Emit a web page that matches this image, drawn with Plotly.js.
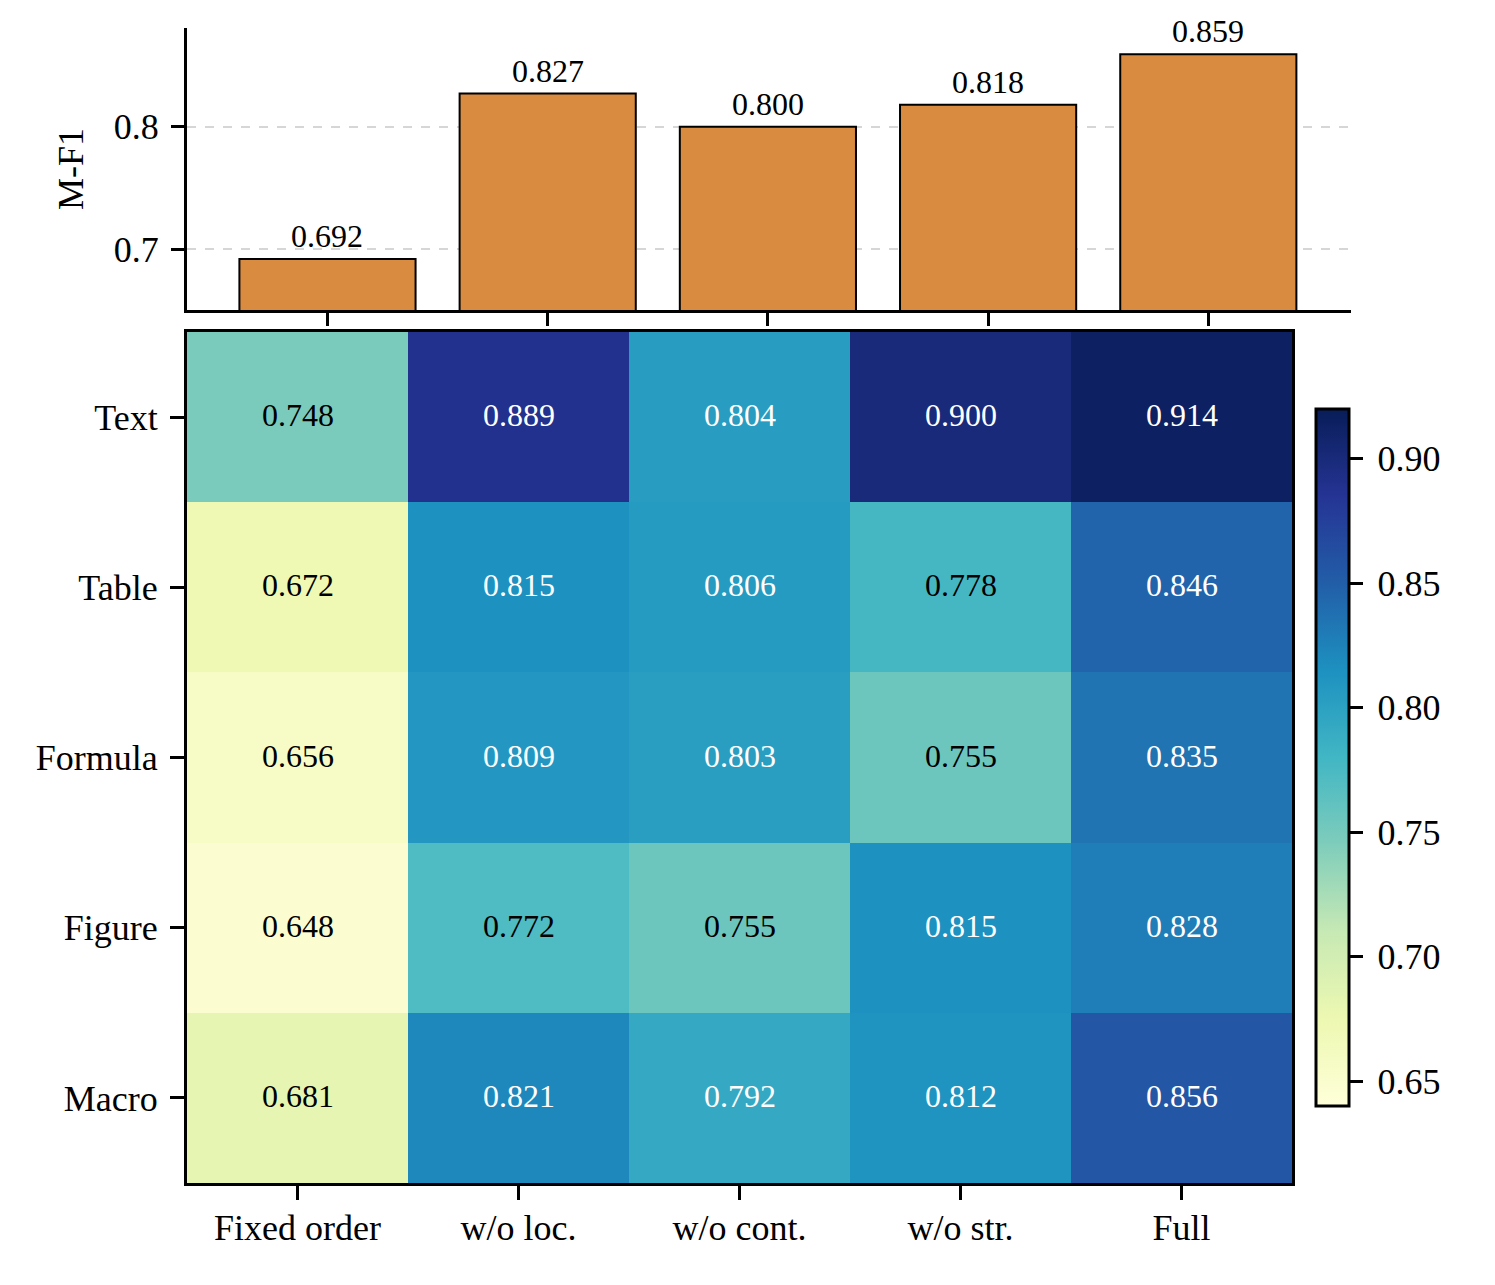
<!DOCTYPE html>
<html>
<head>
<meta charset="utf-8">
<script src="https://cdn.plot.ly/plotly-3.0.1.min.js"></script>
<style>
  html, body { margin: 0; padding: 0; background: #ffffff; }
  #chart { width: 1495px; height: 1285px; }
</style>
</head>
<body>
<div id="chart"></div>
<script>
// Ablation variants (columns) and element types (rows)
const variants = ["Fixed order", "w/o loc.", "w/o cont.", "w/o str.", "Full"];
const elements = ["Text", "Table", "Formula", "Figure", "Macro"];

// Overall M-F1 per variant (top bar panel)
const overallF1 = [0.692, 0.827, 0.800, 0.818, 0.859];

// Per-element F1, one row per element type
const textF1    = [0.748, 0.889, 0.804, 0.900, 0.914];
const tableF1   = [0.672, 0.815, 0.806, 0.778, 0.846];
const formulaF1 = [0.656, 0.809, 0.803, 0.755, 0.835];
const figureF1  = [0.648, 0.772, 0.755, 0.815, 0.828];
const macroF1   = [0.681, 0.821, 0.792, 0.812, 0.856];

const colorbarTicks = [0.65, 0.70, 0.75, 0.80, 0.85, 0.90];
const barTicks = [0.7, 0.8];

const zRows = [textF1, tableF1, formulaF1, figureF1, macroF1];
const zMin = 0.64, zMax = 0.92;

const FONT = '"Liberation Serif", "Times New Roman", Times, serif';
const W = 1495, H = 1285;

// YlGnBu
const ylgnbu = [
  [0.000, '#ffffd9'], [0.125, '#edf8b1'], [0.250, '#c7e9b4'],
  [0.375, '#7fcdbb'], [0.500, '#41b6c4'], [0.625, '#1d91c0'],
  [0.750, '#225ea8'], [0.875, '#253494'], [1.000, '#081d58']
];

const px = v => v / W;
const py = v => 1 - v / H;

const barTrace = {
  type: 'bar',
  x: variants,
  y: overallF1,
  xaxis: 'x',
  yaxis: 'y',
  width: 0.8,
  marker: { color: '#d98b40', line: { color: '#000000', width: 2 } },
  hoverinfo: 'x+y',
  showlegend: false
};

const heatTrace = {
  type: 'heatmap',
  x: variants,
  y: elements,
  z: zRows,
  xaxis: 'x2',
  yaxis: 'y2',
  zmin: zMin,
  zmax: zMax,
  colorscale: ylgnbu,
  showscale: true,
  colorbar: {
    x: px(1316), xanchor: 'left',
    y: py(757.5), yanchor: 'middle',
    len: 697, lenmode: 'pixels',
    thickness: 33, thicknessmode: 'pixels',
    outlinecolor: '#000000', outlinewidth: 3,
    xpad: 0, ypad: 0,
    tickmode: 'array',
    tickvals: colorbarTicks,
    ticktext: colorbarTicks.map(v => '\u2009' + v.toFixed(2)),
    ticks: 'outside', ticklen: 13, tickwidth: 3, tickcolor: '#000000',
    tickfont: { family: FONT, size: 36, color: '#000000' }
  },
  hovertemplate: '%{y} / %{x}: %{z:.3f}<extra></extra>'
};

const annotations = [];

// value labels above the bars
variants.forEach((v, i) => {
  annotations.push({
    xref: 'x', yref: 'y', x: v, y: overallF1[i],
    text: overallF1[i].toFixed(3),
    showarrow: false, yanchor: 'bottom', yshift: 3,
    font: { family: FONT, size: 32, color: '#000000' }
  });
});

// value labels inside heatmap cells
const mid = (zMin + zMax) / 2;
elements.forEach((e, r) => {
  variants.forEach((v, c) => {
    const val = zRows[r][c];
    annotations.push({
      xref: 'x2', yref: 'y2', x: v, y: e,
      text: val.toFixed(3),
      showarrow: false, yshift: 2,
      font: { family: FONT, size: 32, color: val > mid ? '#ffffff' : '#000000' }
    });
  });
});

const layout = {
  width: W, height: H,
  margin: { l: 0, r: 0, t: 0, b: 0 },
  paper_bgcolor: '#ffffff',
  plot_bgcolor: '#ffffff',
  font: { family: FONT, size: 36, color: '#000000' },
  showlegend: false,
  xaxis: {
    domain: [px(187), px(1351)],
    anchor: 'y',
    type: 'category',
    range: [-0.638, 4.648],
    showline: true, linecolor: '#000000', linewidth: 3,
    ticks: 'outside', ticklen: 13, tickwidth: 3, tickcolor: '#000000',
    showticklabels: false,
    showgrid: false, zeroline: false, fixedrange: true
  },
  yaxis: {
    domain: [py(310), py(28)],
    anchor: 'x',
    range: [0.6505, 0.8805],
    showline: true, linecolor: '#000000', linewidth: 3,
    ticks: 'outside', ticklen: 13, tickwidth: 3, tickcolor: '#000000',
    ticklabelstandoff: 5,
    tickmode: 'array', tickvals: barTicks,
    ticktext: barTicks.map(v => v.toFixed(1)),
    tickfont: { family: FONT, size: 36 },
    showgrid: true, gridcolor: '#d6d6d6', gridwidth: 1.5, griddash: 'dash',
    zeroline: false, fixedrange: true,
    title: { text: 'M-F1', font: { family: FONT, size: 36 }, standoff: 20 }
  },
  xaxis2: {
    domain: [px(187), px(1292)],
    anchor: 'y2',
    type: 'category',
    showline: true, mirror: true, linecolor: '#000000', linewidth: 3,
    ticks: 'outside', ticklen: 14, tickwidth: 3, tickcolor: '#000000',
    ticklabelstandoff: -3,
    tickfont: { family: FONT, size: 36 },
    showgrid: false, zeroline: false, fixedrange: true
  },
  yaxis2: {
    domain: [py(1183), py(332)],
    anchor: 'x2',
    type: 'category',
    autorange: 'reversed',
    showline: true, mirror: true, linecolor: '#000000', linewidth: 3,
    ticks: 'outside', ticklen: 14, tickwidth: 3, tickcolor: '#000000',
    ticklabelstandoff: 5,
    tickfont: { family: FONT, size: 36 },
    showgrid: false, zeroline: false, fixedrange: true
  },
  annotations: annotations
};

Plotly.newPlot('chart', [barTrace, heatTrace], layout, { displayModeBar: false });
</script>
</body>
</html>
